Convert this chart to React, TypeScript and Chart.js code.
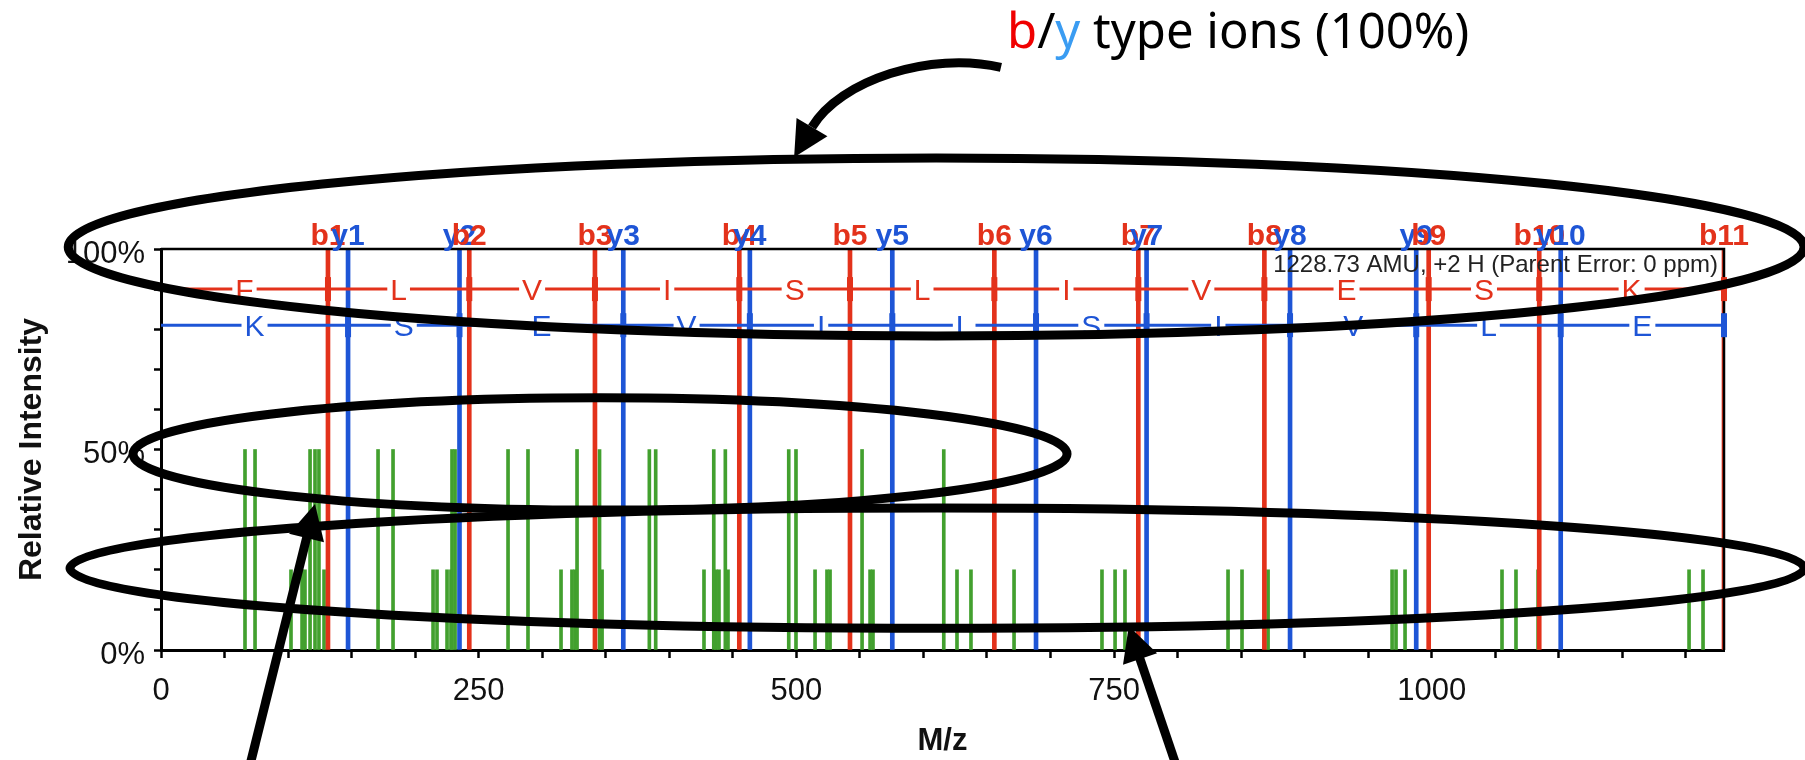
import React, { useEffect, useRef } from 'react';
import { Chart, registerables } from 'chart.js';

Chart.register(...registerables);

// ---------------- data ----------------
const X_MIN = 0;
const X_MAX = 1230;
const Y_MIN = 0;
const Y_MAX = 100;
const X_MINOR_STEP = 50;
const X_LABEL_STEP = 250;
const Y_MINOR_STEP = 10;
const Y_LABEL_STEP = 50;

const B_IONS = [131.4, 242.6, 341.5, 455.1, 542.2, 655.8, 769.1, 868.3, 997.6, 1084.6, 1230];
const B_LABELS = ['b1', 'b2', 'b3', 'b4', 'b5', 'b6', 'b7', 'b8', 'b9', 'b10', 'b11'];
const Y_IONS = [147.2, 234.9, 363.8, 463.4, 575.5, 688.6, 775.6, 888.5, 987.8, 1101.5];
const Y_LABELS = ['y1', 'y2', 'y3', 'y4', 'y5', 'y6', 'y7', 'y8', 'y9', 'y10'];
const ION_INTENSITY = 100;

const B_SEQUENCE = ['F', 'L', 'V', 'I', 'S', 'L', 'I', 'V', 'E', 'S', 'K'];
const Y_SEQUENCE = ['K', 'S', 'E', 'V', 'I', 'L', 'S', 'I', 'V', 'L', 'E'];
const B_ROW_LEVEL = 90;
const Y_ROW_LEVEL = 81;

const PEAKS_HIGH_MZ = [66.1, 74.0, 117.3, 121.2, 124.3, 170.8, 182.6, 229.0, 231.4, 273.1, 288.8, 327.4, 345.1, 384.3, 389.3, 435.0, 444.1, 494.0, 499.7, 551.7, 616.0];
const PEAKS_HIGH_INTENSITY = 50;
const PEAKS_LOW_MZ = [102.3, 111.0, 113.3, 128.3, 214.1, 217.2, 225.1, 228.2, 314.8, 323.4, 325.8, 347.1, 427.3, 436.8, 439.1, 446.2, 514.7, 524.1, 526.5, 558.0, 560.3, 626.4, 637.4, 671.3, 740.5, 750.8, 758.6, 839.7, 850.7, 871.2, 968.8, 971.9, 979.0, 1055.3, 1066.3, 1083.7, 1202.5, 1213.5];
const PEAKS_LOW_INTENSITY = 20;

const PARENT_TEXT = '1228.73 AMU, +2 H (Parent Error: 0 ppm)';
const PARENT_LEVEL = 95.8;
const CALLOUT_PARTS = ['b', '/', 'y', ' type ions (100%)'];

// ---------------- styles ----------------
const RED = '#e3321b';
const BLUE = '#1e55d6';
const GREEN = '#42a02e';
const FONT = '"Liberation Sans", Arial, Helvetica, sans-serif';
const CALLOUT_COLORS = ['#f00000', '#000000', '#3a9cf2', '#000000'];

// annotation geometry (data units)
const ELLIPSES = [
  { cx: 610, cy: 100.5, rx: 683, ry: 22.2 },
  { cx: 345.5, cy: 48.9, rx: 367.5, ry: 14 },
  { cx: 610.7, cy: 20.4, rx: 682.3, ry: 15 },
];
const STRAIGHT_ARROWS = [
  { from: [70, -28.7], to: [121.2, 36.4] },
  { from: [798.8, -28.7], to: [761.6, 6.0] },
];
const CURVED_ARROW = { start: [661, 145.3], c1: [605.1, 149.4], c2: [534.3, 142.1], end: [512.3, 130.4] };

function drawRow(ctx: CanvasRenderingContext2D, xs: any, ys: any, bounds: number[], letters: string[], level: number, color: string) {
  const yp = ys.getPixelForValue(level);
  const size = 30;
  ctx.font = `${size}px ${FONT}`;
  ctx.strokeStyle = color;
  ctx.fillStyle = color;
  ctx.lineWidth = 3;
  ctx.textAlign = 'center';
  ctx.textBaseline = 'alphabetic';
  for (let i = 0; i < letters.length; i++) {
    const x0 = xs.getPixelForValue(bounds[i]);
    const x1 = xs.getPixelForValue(bounds[i + 1]);
    const mid = (x0 + x1) / 2;
    const half = ctx.measureText(letters[i]).width / 2 + 3;
    ctx.beginPath();
    ctx.moveTo(x0, yp);
    ctx.lineTo(mid - half, yp);
    ctx.moveTo(mid + half, yp);
    ctx.lineTo(x1, yp);
    ctx.stroke();
    ctx.fillText(letters[i], mid, yp + size * 0.358);
  }
  for (let i = 1; i < bounds.length; i++) {
    const bx = xs.getPixelForValue(bounds[i]);
    ctx.fillRect(bx - 3, yp - 12, 6, 24);
  }
}

function arrowHead(ctx: CanvasRenderingContext2D, hx: number, hy: number, dx: number, dy: number, len: number, half: number) {
  const tx = hx + dx * len;
  const ty = hy + dy * len;
  ctx.beginPath();
  ctx.moveTo(tx, ty);
  ctx.lineTo(hx - dy * half, hy + dx * half);
  ctx.lineTo(hx + dy * half, hy - dx * half);
  ctx.closePath();
  ctx.fill();
}

const decorPlugin = {
  id: 'spectrumDecor',
  afterDatasetsDraw(chart: any) {
    const { ctx, chartArea: a } = chart;
    const xs = chart.scales.x;
    const ys = chart.scales.y;
    ctx.save();
    ctx.strokeStyle = '#000';
    ctx.lineWidth = 2.5;
    ctx.beginPath();
    ctx.moveTo(a.left, a.top);
    ctx.lineTo(a.right, a.top);
    ctx.lineTo(a.right, a.bottom);
    ctx.stroke();

    drawRow(ctx, xs, ys, [X_MIN, ...B_IONS], B_SEQUENCE, B_ROW_LEVEL, RED);
    drawRow(ctx, xs, ys, [X_MIN, ...Y_IONS, X_MAX], Y_SEQUENCE, Y_ROW_LEVEL, BLUE);

    ctx.font = `24px ${FONT}`;
    ctx.fillStyle = '#222';
    ctx.textAlign = 'right';
    ctx.textBaseline = 'middle';
    ctx.fillText(PARENT_TEXT, a.right - 6, ys.getPixelForValue(PARENT_LEVEL));

    const labels = [
      ...B_IONS.map((v, i) => ({ v, t: B_LABELS[i], c: RED })),
      ...Y_IONS.map((v, i) => ({ v, t: Y_LABELS[i], c: BLUE })),
    ].sort((p, q) => p.v - q.v);
    ctx.font = `bold 30px ${FONT}`;
    ctx.textAlign = 'center';
    ctx.textBaseline = 'alphabetic';
    labels.forEach((l) => {
      ctx.fillStyle = l.c;
      ctx.fillText(l.t, xs.getPixelForValue(l.v), a.top - 4);
    });
    ctx.restore();
  },
  afterDraw(chart: any) {
    const { ctx } = chart;
    const xs = chart.scales.x;
    const ys = chart.scales.y;
    const px = (p: number[]) => [xs.getPixelForValue(p[0]), ys.getPixelForValue(p[1])];
    ctx.save();
    ctx.strokeStyle = '#000';
    ctx.fillStyle = '#000';
    ctx.lineWidth = 9;
    ELLIPSES.forEach((e) => {
      const cx = xs.getPixelForValue(e.cx);
      const cy = ys.getPixelForValue(e.cy);
      const rx = xs.getPixelForValue(e.cx + e.rx) - cx;
      const ry = cy - ys.getPixelForValue(e.cy + e.ry);
      ctx.beginPath();
      ctx.ellipse(cx, cy, rx, ry, 0, 0, Math.PI * 2);
      ctx.stroke();
    });
    const L = 35;
    const W = 18;
    STRAIGHT_ARROWS.forEach((ar) => {
      const [fx, fy] = px(ar.from);
      const [tx, ty] = px(ar.to);
      const d = Math.hypot(tx - fx, ty - fy);
      const dx = (tx - fx) / d;
      const dy = (ty - fy) / d;
      const hx = tx - dx * L;
      const hy = ty - dy * L;
      ctx.beginPath();
      ctx.moveTo(fx, fy);
      ctx.lineTo(hx + dx * 2, hy + dy * 2);
      ctx.stroke();
      arrowHead(ctx, hx, hy, dx, dy, L, W);
    });
    {
      const [sx, sy] = px(CURVED_ARROW.start);
      const [c1x, c1y] = px(CURVED_ARROW.c1);
      const [c2x, c2y] = px(CURVED_ARROW.c2);
      const [ex, ey] = px(CURVED_ARROW.end);
      ctx.beginPath();
      ctx.moveTo(sx, sy);
      ctx.bezierCurveTo(c1x, c1y, c2x, c2y, ex, ey);
      ctx.stroke();
      const d = Math.hypot(ex - c2x, ey - c2y);
      arrowHead(ctx, ex, ey, (ex - c2x) / d, (ey - c2y) / d, L, W);
    }
    ctx.font = '49px "Noto Sans", "DejaVu Sans", sans-serif';
    ctx.textAlign = 'left';
    ctx.textBaseline = 'alphabetic';
    let cxp = 1007;
    CALLOUT_PARTS.forEach((t, i) => {
      ctx.fillStyle = CALLOUT_COLORS[i];
      ctx.fillText(t, cxp, 48);
      cxp += ctx.measureText(t).width;
    });
    ctx.restore();
  },
};

export default function App() {
  const ref = useRef<HTMLCanvasElement>(null);
  useEffect(() => {
    if (!ref.current) return;
    const barCommon = { grouped: true, stack: 'all', barPercentage: 1, categoryPercentage: 1, borderWidth: 0 };
    const chart = new Chart(ref.current, {
      type: 'bar',
      data: {
        datasets: [
          { ...barCommon, label: 'b ions', data: B_IONS.map((v) => ({ x: v, y: ION_INTENSITY })), backgroundColor: RED, barThickness: 4, order: 1 },
          { ...barCommon, label: 'y ions', data: Y_IONS.map((v) => ({ x: v, y: ION_INTENSITY })), backgroundColor: BLUE, barThickness: 4, order: 1 },
          { ...barCommon, label: 'peaks 50', data: PEAKS_HIGH_MZ.map((v) => ({ x: v, y: PEAKS_HIGH_INTENSITY })), backgroundColor: GREEN, barThickness: 3, order: 2 },
          { ...barCommon, label: 'peaks 20', data: PEAKS_LOW_MZ.map((v) => ({ x: v, y: PEAKS_LOW_INTENSITY })), backgroundColor: GREEN, barThickness: 3, order: 2 },
        ] as any,
      },
      options: {
        responsive: false,
        maintainAspectRatio: false,
        devicePixelRatio: 1,
        animation: false,
        layout: { padding: { left: 0, right: 81, top: 249, bottom: 0 } },
        plugins: { legend: { display: false }, tooltip: { enabled: false } },
        scales: {
          x: {
            type: 'linear',
            min: X_MIN,
            max: X_MAX,
            offset: false,
            afterFit: (s: any) => { s.height = 110; },
            grid: { offset: false, drawOnChartArea: false, drawTicks: true, tickLength: 8, tickWidth: 2.5, tickColor: '#000' },
            border: { display: true, color: '#000', width: 3 },
            ticks: {
              stepSize: X_MINOR_STEP,
              includeBounds: false,
              autoSkip: false,
              maxRotation: 0,
              padding: 15,
              color: '#111',
              font: { family: FONT, size: 31 },
              callback: (v: any) => (Number(v) % X_LABEL_STEP === 0 ? String(v) : ''),
            },
            title: { display: true, text: 'M/z', color: '#111', font: { family: FONT, size: 31, weight: 'bold' }, padding: { top: 0, bottom: 0 } },
          },
          y: {
            type: 'linear',
            min: Y_MIN,
            max: Y_MAX,
            afterFit: (s: any) => { s.width = 161; },
            grid: { drawOnChartArea: false, drawTicks: true, tickLength: 7, tickWidth: 2.5, tickColor: '#000' },
            border: { display: true, color: '#000', width: 3 },
            ticks: {
              stepSize: Y_MINOR_STEP,
              autoSkip: false,
              padding: 9,
              labelOffset: 5,
              color: '#111',
              font: { family: FONT, size: 31 },
              callback: (v: any) => (Number(v) % Y_LABEL_STEP === 0 ? `${v}%` : ''),
            },
            title: { display: true, text: 'Relative Intensity', color: '#111', font: { family: FONT, size: 32, weight: 'bold' }, padding: { top: 13, bottom: 0 } },
          },
        },
      } as any,
      plugins: [decorPlugin],
    });
    return () => chart.destroy();
  }, []);
  return (
    <div style={{ position: 'absolute', left: 0, top: 0, width: 1805, height: 760, background: '#fff' }}>
      <canvas ref={ref} width={1805} height={760} style={{ display: 'block', width: 1805, height: 760 }} />
    </div>
  );
}
